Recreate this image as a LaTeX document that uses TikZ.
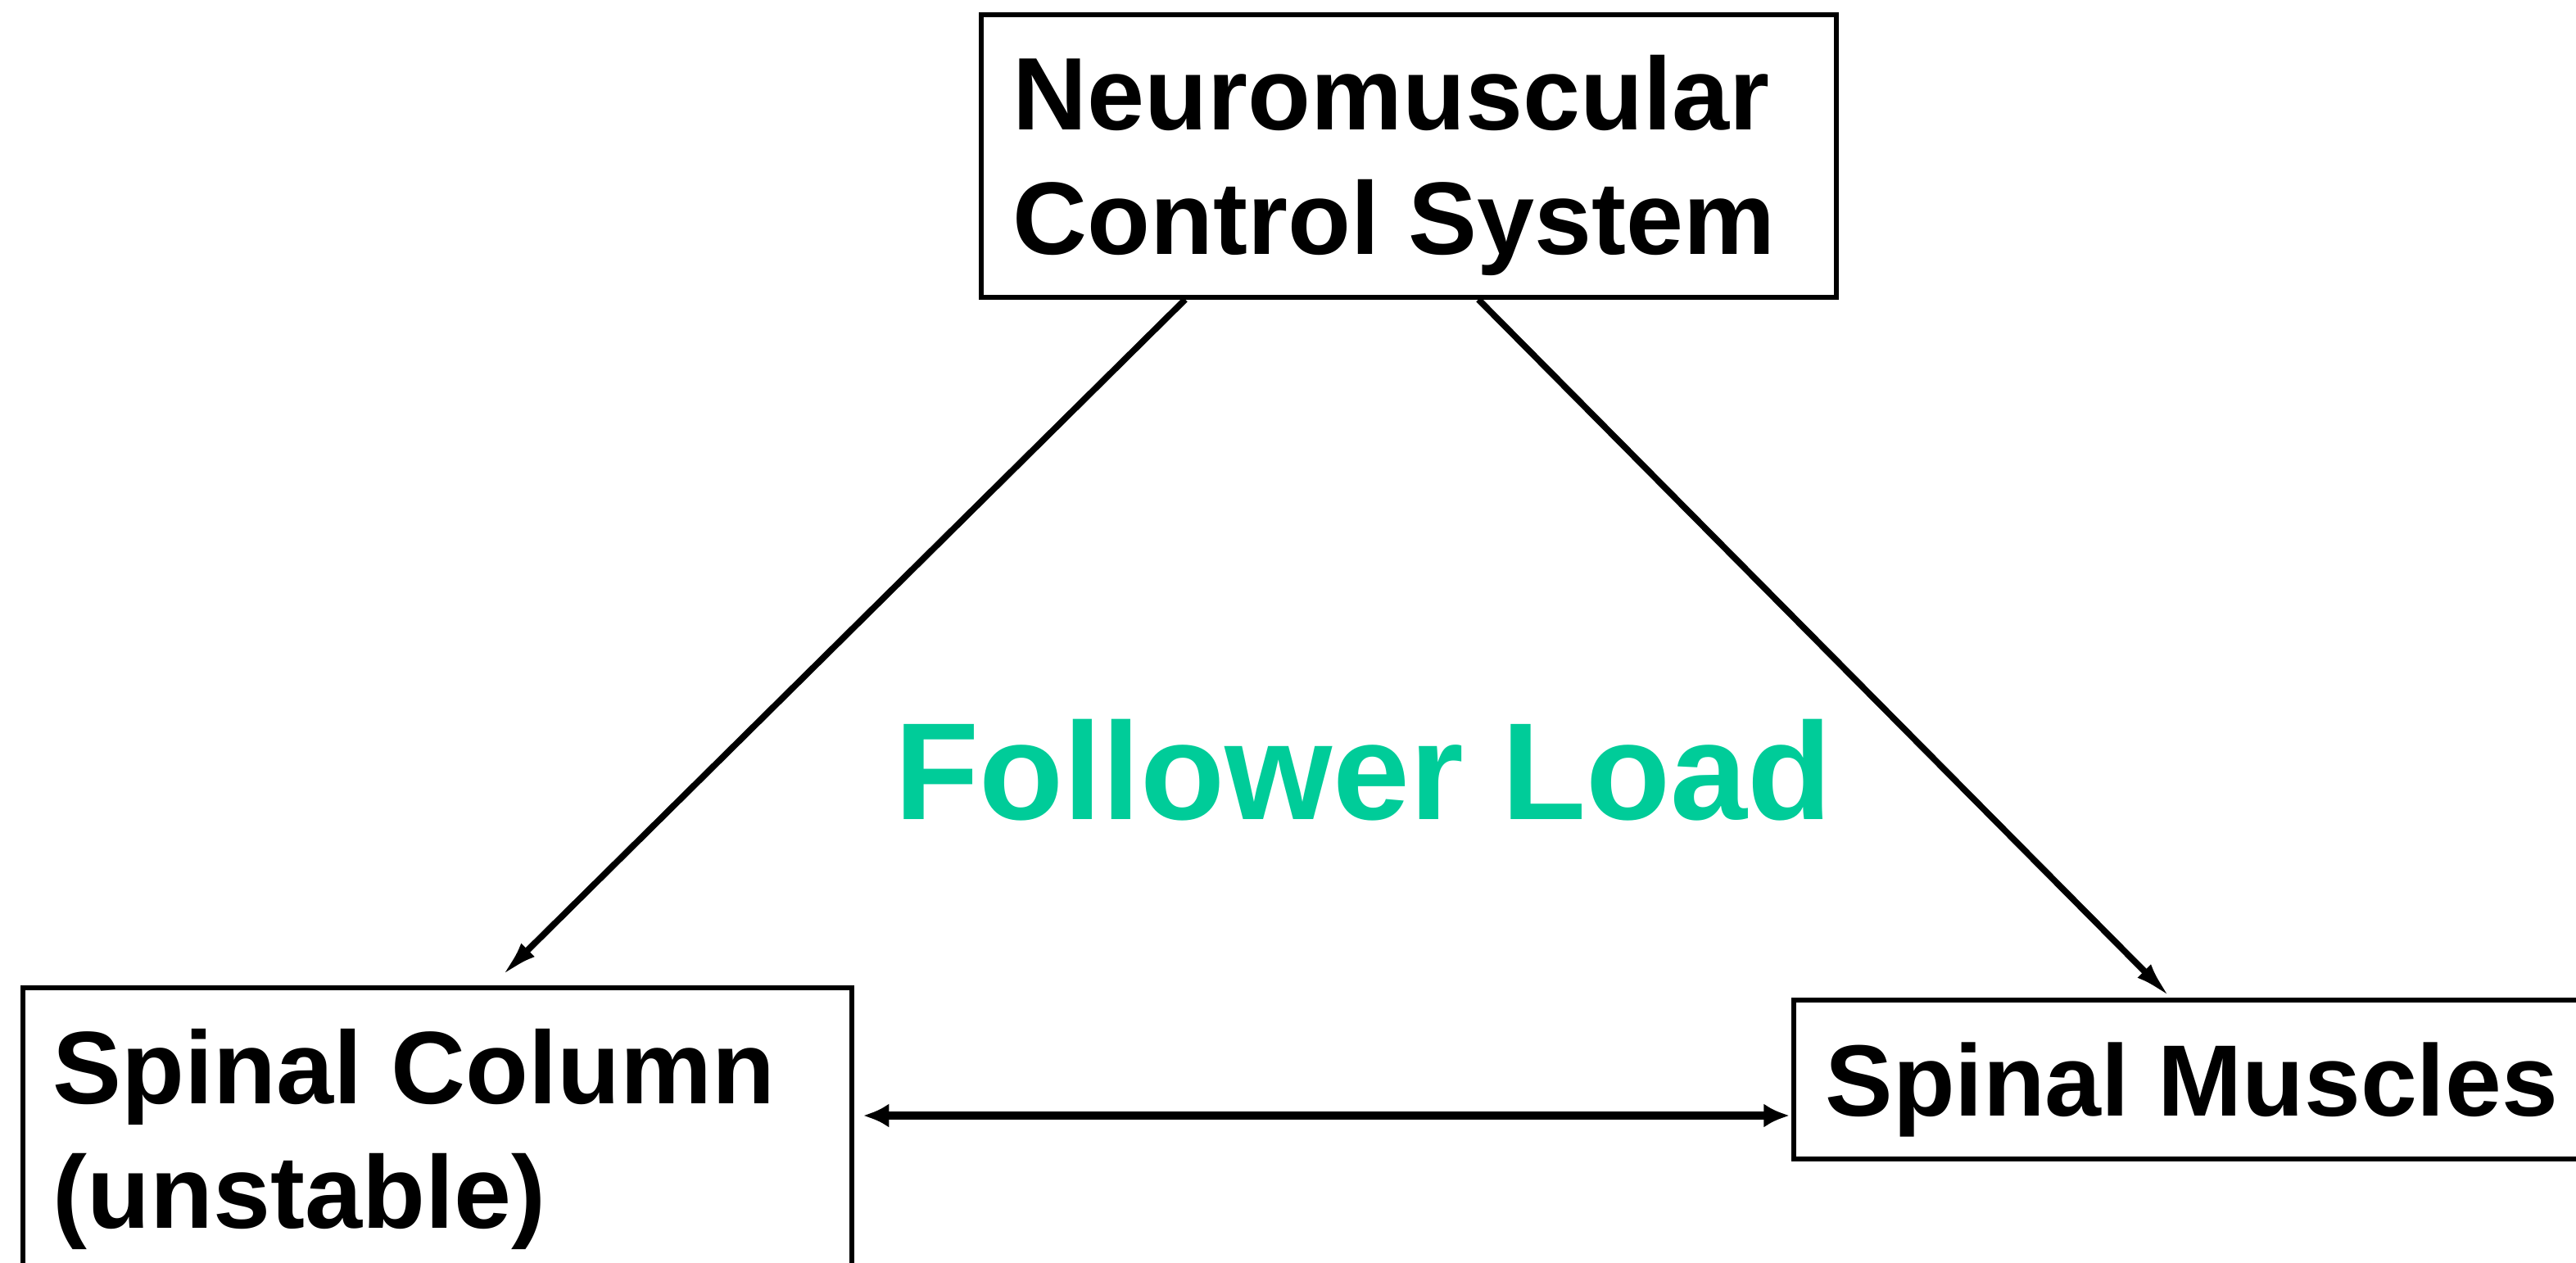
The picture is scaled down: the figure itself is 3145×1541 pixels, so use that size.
\documentclass[tikz,border=0pt]{standalone}
\usepackage{fontspec}
\setmainfont{Liberation Sans}
\usetikzlibrary{arrows.meta,calc}
\definecolor{follow}{RGB}{0,204,153}
\begin{document}
\begin{tikzpicture}[x=0.01cm,y=-0.01cm,
  box/.style={draw=black,line width=1.6pt,inner sep=0pt,anchor=north west,fill=white},
  lbl/.style={inner sep=0pt,align=left,font=\bfseries\fontsize{35.8}{43}\selectfont},
  conn/.style={line width=2.2pt,-{Latex[length=13pt,width=6.5pt]}},
  bconn/.style={line width=2.8pt,{Latex[length=9pt,width=8.3pt]}-{Latex[length=9pt,width=8.3pt]}}]
\useasboundingbox (0,0) rectangle (3145,1541);
\clip (0,0) rectangle (3145,1541);
\fill[white] (0,0) rectangle (3145,1541);
% boxes
\node[box,minimum width=1044*0.01cm,minimum height=345*0.01cm] (nm) at (1195,15) {};
\node[box,minimum width=1012*0.01cm,minimum height=400*0.01cm] (sc) at (25,1203) {};
\node[box,minimum width=1000*0.01cm,minimum height=194*0.01cm] (sm) at (2187,1218) {};
% labels
\node[lbl,anchor=north west] (nmt) at (1236,67) {Neuromuscular\\Control System};
\node[lbl,anchor=north west] (sct) at (64,1256) {Spinal Column\\(unstable)};
\node[lbl,anchor=base west,font=\bfseries\fontsize{35.2}{42}\selectfont] (smt) at (2228,1362) {Spinal Muscles};
\node[inner sep=0pt,anchor=base west,text=follow,font=\bfseries\fontsize{48}{58}\selectfont] (fl) at (1092,1000) {Follower Load};
% connectors
\coordinate (a1) at ($(nm.south west)+(252,0)$);
\coordinate (a2) at ($(sc.north west)+(587,-11)$);
\coordinate (b1) at ($(nm.south west)+(610,0)$);
\coordinate (b2) at ($(sm.north west)+(463,0)$);
\coordinate (c1) at ($(sc.north east)+(11,159)$);
\coordinate (c2) at ($(sm.north west)+(-2,144)$);
\draw[conn] (a1) -- (a2);
\draw[conn] (b1) -- (b2);
\draw[bconn] (c1) -- (c2);
\end{tikzpicture}
\end{document}
